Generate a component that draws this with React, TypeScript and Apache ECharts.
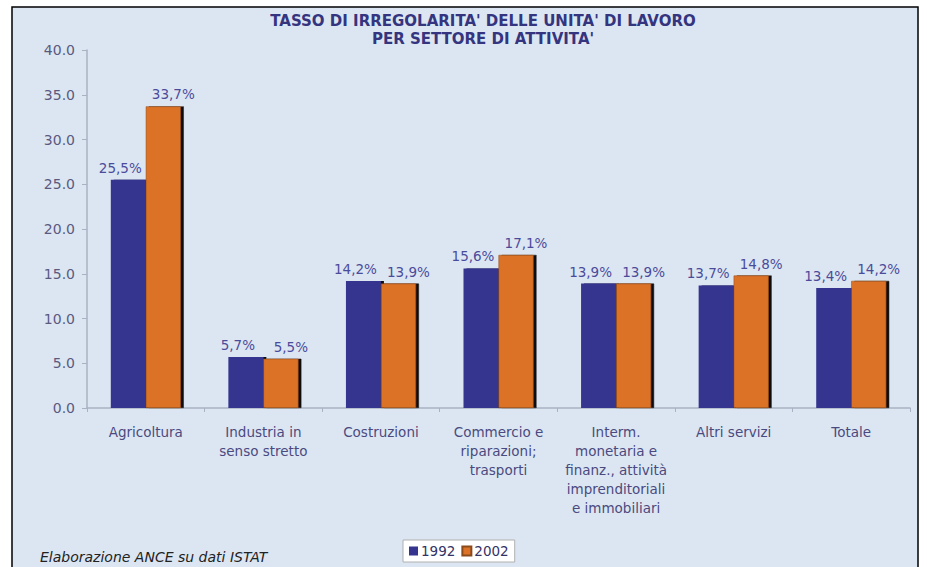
import React, { useEffect, useRef } from "react";
import * as echarts from "echarts";

const categories = [
  "Agricoltura",
  "Industria in\nsenso stretto",
  "Costruzioni",
  "Commercio e\nriparazioni;\ntrasporti",
  "Interm.\nmonetaria e\nfinanz., attività\nimprenditoriali\ne immobiliari",
  "Altri servizi",
  "Totale",
];
const values1992 = [25.5, 5.7, 14.2, 15.6, 13.9, 13.7, 13.4];
const values2002 = [33.7, 5.5, 13.9, 17.1, 13.9, 14.8, 14.2];
const seriesNames = ["1992", "2002"];
const titleText = "TASSO DI IRREGOLARITA' DELLE UNITA' DI LAVORO\nPER SETTORE DI ATTIVITA'";
const sourceText = "Elaborazione ANCE su dati ISTAT";

const FONT = "DejaVu Sans";

export default function App() {
  const ref = useRef<HTMLDivElement>(null);
  useEffect(() => {
    if (!ref.current) return;
    const chart = echarts.init(ref.current, undefined, { renderer: "svg" });
    const fmt = (p: any) => p.value.toFixed(1).replace(".", ",") + "%";
    const labelStyle = {
      show: true,
      position: "top" as const,
      color: "#4b4b9b",
      fontSize: 13.5,
      fontFamily: FONT,
      formatter: fmt,
    };
    chart.setOption({
      animation: false,
      backgroundColor: "#ffffff",
      textStyle: { fontFamily: FONT },
      title: {
        text: titleText,
        left: 478,
        top: 7,
        textAlign: "center",
        textStyle: {
          color: "#34347f",
          fontSize: 15,
          fontWeight: "bold",
          fontFamily: FONT,
          lineHeight: 18,
        },
      },
      graphic: [
        {
          type: "rect",
          z: -10,
          silent: true,
          shape: { x: 12, y: 7, width: 906, height: 580 },
          style: { fill: "#dce6f2", stroke: "#000000", lineWidth: 1.5 },
        },
        {
          type: "text",
          left: 40,
          top: 550,
          style: {
            text: sourceText,
            fill: "#222222",
            font: `italic 14px ${FONT}`,
          },
        },
      ],
      legend: {
        data: seriesNames,
        left: 403,
        top: 540,
        backgroundColor: "#ffffff",
        borderColor: "#b0b0b0",
        borderWidth: 1,
        padding: [4, 6],
        itemWidth: 9,
        itemHeight: 9,
        itemGap: 6,
        icon: "rect",
        textStyle: { color: "#333366", fontSize: 13.5, fontFamily: FONT, padding: [0, 0, 0, -2] },
      },
      grid: { left: 87, right: 17, top: 50, bottom: 159, containLabel: false },
      xAxis: {
        type: "category",
        data: categories,
        axisLine: { show: true, lineStyle: { color: "#a8b2c2", width: 1.5 } },
        axisTick: { show: true, length: 4, lineStyle: { color: "#a8b2c2" } },
        axisLabel: {
          color: "#4a4a80",
          fontSize: 13.5,
          fontFamily: FONT,
          lineHeight: 19,
          margin: 14,
          interval: 0,
        },
      },
      yAxis: {
        type: "value",
        min: 0,
        max: 40,
        interval: 5,
        splitLine: { show: false },
        axisLine: { show: true, lineStyle: { color: "#a8b2c2", width: 1.5 } },
        axisTick: { show: true, length: 5, lineStyle: { color: "#a8b2c2" } },
        axisLabel: {
          color: "#5a5a80",
          fontSize: 14,
          fontFamily: FONT,
          margin: 12,
          formatter: (v: number) => v.toFixed(1),
        },
      },
      series: [
        {
          name: seriesNames[0],
          type: "bar",
          data: values1992,
          barWidth: 35,
          barGap: "0%",
          itemStyle: {
            color: "#35358f",
            shadowColor: "#111111",
            shadowOffsetX: 3,
            shadowOffsetY: 0,
            shadowBlur: 0,
          },
          label: { ...labelStyle, offset: [-8, 0] },
        },
        {
          name: seriesNames[1],
          type: "bar",
          data: values2002,
          barWidth: 35,
          barGap: "0%",
          itemStyle: {
            color: "#dc7228",
            borderColor: "#8a4a1a",
            borderWidth: 0.5,
            shadowColor: "#111111",
            shadowOffsetX: 3,
            shadowOffsetY: 0,
            shadowBlur: 0,
          },
          label: { ...labelStyle, offset: [10, 0] },
        },
      ],
    });
    return () => chart.dispose();
  }, []);
  return (
    <div
      ref={ref}
      style={{ position: "fixed", left: 0, top: 0, width: 927, height: 567 }}
    />
  );
}
